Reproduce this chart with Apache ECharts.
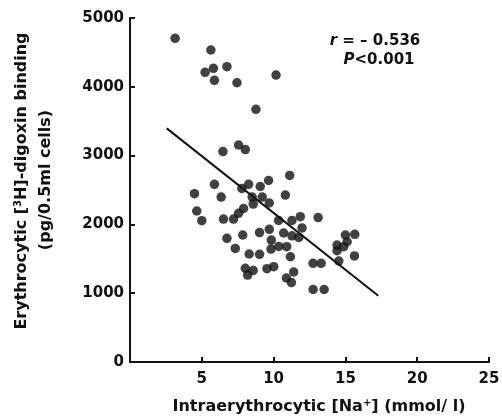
<!DOCTYPE html>
<html><head><meta charset="utf-8">
<script src="https://cdn.jsdelivr.net/npm/echarts/dist/echarts.min.js"></script>
<style>html,body{margin:0;padding:0;background:#fff}#c{width:502px;height:420px}</style>
</head><body><div id="c"></div>
<script>
// Intraerythrocytic [Na+] (mmol/l)
const naValues = [
  3.14, 5.63, 5.81, 5.23, 6.75, 5.88, 7.45, 10.17, 8.77,
  7.56, 8.03, 6.47, 11.12, 5.88, 4.49, 6.35, 7.79, 8.26, 9.07, 9.65,
  8.51, 9.21, 8.58, 9.70, 7.91, 10.82, 4.65, 5.00, 6.51, 7.21, 7.56,
  11.86, 13.10, 11.28, 10.35, 11.98, 9.70, 9.02, 10.70, 11.28, 11.76,
  9.84, 6.75, 7.85, 7.33, 8.30, 9.02, 9.82, 10.36, 10.91, 11.17,
  8.03, 8.58, 8.19, 9.54, 10.01, 11.40, 10.89, 11.24, 12.75, 13.31,
  12.75, 13.52, 15.00, 15.65, 15.12, 14.42, 14.88, 14.42, 15.63, 14.54
];
// Erythrocytic [3H]-digoxin binding (pg/0.5ml cells)
const bindingValues = [
  4705, 4535, 4269, 4211, 4292, 4094, 4059, 4171, 3673,
  3154, 3088, 3059, 2711, 2583, 2446, 2398, 2522, 2583, 2551, 2638,
  2398, 2398, 2296, 2311, 2231, 2427, 2195, 2054, 2078, 2078, 2161,
  2112, 2100, 2057, 2057, 1948, 1929, 1882, 1875, 1834, 1810,
  1773, 1798, 1846, 1650, 1570, 1565, 1642, 1679, 1676, 1530,
  1362, 1330, 1264, 1356, 1385, 1308, 1221, 1155, 1434, 1434,
  1054, 1054, 1846, 1856, 1748, 1700, 1676, 1618, 1541, 1468
];
// regression line end points
const fitNa = [2.56, 17.29];
const fitBinding = [3396, 963];
const xTickValues = [0, 5, 10, 15, 20, 25];
const yTickValues = [0, 1000, 2000, 3000, 4000, 5000];

const scatterData = naValues.map((v, i) => [v, bindingValues[i]]);
const fitData = fitNa.map((v, i) => [v, fitBinding[i]]);

const FONT = 'DejaVu Sans';
const INK = '#111';
const chart = echarts.init(document.getElementById('c'), null, {renderer: 'canvas'});
chart.setOption({
  animation: false,
  backgroundColor: '#fff',
  grid: {left: 130, right: 13, top: 18, bottom: 58, containLabel: false, outerBoundsMode: 'none'},
  xAxis: {
    type: 'value', min: xTickValues[0], max: xTickValues[xTickValues.length - 1], interval: 5,
    splitLine: {show: false},
    axisLine: {lineStyle: {color: INK, width: 2}},
    axisTick: {inside: true, length: 5, lineStyle: {color: INK, width: 2}},
    axisLabel: {
      color: INK, fontFamily: FONT, fontWeight: 'bold', fontSize: 15, margin: 10,
      formatter: v => (v === 0 ? '' : String(v))
    }
  },
  yAxis: {
    type: 'value', min: yTickValues[0], max: yTickValues[yTickValues.length - 1], interval: 1000,
    splitLine: {show: false},
    axisLine: {show: true, lineStyle: {color: INK, width: 2}},
    axisTick: {show: true, inside: true, length: 5, lineStyle: {color: INK, width: 2}},
    axisLabel: {color: INK, fontFamily: FONT, fontWeight: 'bold', fontSize: 15, margin: 6,
      formatter: v => String(v)}
  },
  series: [
    {
      type: 'line', data: fitData, symbol: 'none',
      lineStyle: {color: INK, width: 2}, z: 2
    },
    {
      type: 'scatter', data: scatterData, symbol: 'circle', symbolSize: 9.5,
      itemStyle: {color: INK}, z: 3
    }
  ],
  graphic: [
    {
      type: 'text', x: 319, y: 407,
      style: {
        text: 'Intraerythrocytic [Na{sup|+}] (mmol/ l)',
        align: 'center', verticalAlign: 'middle',
        font: 'bold 16px "DejaVu Sans"', fill: INK,
        rich: {sup: {fontSize: 10, fontWeight: 'bold', fontFamily: FONT, fill: INK, padding: [0, 0, 8, 0]}}
      }
    },
    {
      type: 'text', x: 22, y: 181, rotation: Math.PI / 2,
      style: {
        text: 'Erythrocytic [{sup|3}H]-digoxin binding',
        align: 'center', verticalAlign: 'middle',
        font: 'bold 16px "DejaVu Sans"', fill: INK,
        rich: {sup: {fontSize: 10, fontWeight: 'bold', fontFamily: FONT, fill: INK, padding: [0, 0, 8, 0]}}
      }
    },
    {
      type: 'text', x: 46, y: 180, rotation: Math.PI / 2,
      style: {
        text: '(pg/0.5ml cells)',
        align: 'center', verticalAlign: 'middle',
        font: 'bold 16px "DejaVu Sans"', fill: INK
      }
    },
    {
      type: 'text', x: 375, y: 41,
      style: {
        text: '{i|r} = – 0.536',
        align: 'center', verticalAlign: 'middle',
        font: 'bold 15px "DejaVu Sans"', fill: INK,
        rich: {i: {fontStyle: 'italic', fontWeight: 'bold', fontSize: 15, fontFamily: FONT, fill: INK}}
      }
    },
    {
      type: 'text', x: 379, y: 60,
      style: {
        text: '{i|P}<0.001',
        align: 'center', verticalAlign: 'middle',
        font: 'bold 15px "DejaVu Sans"', fill: INK,
        rich: {i: {fontStyle: 'italic', fontWeight: 'bold', fontSize: 15, fontFamily: FONT, fill: INK}}
      }
    }
  ]
});
</script>
</body></html>
